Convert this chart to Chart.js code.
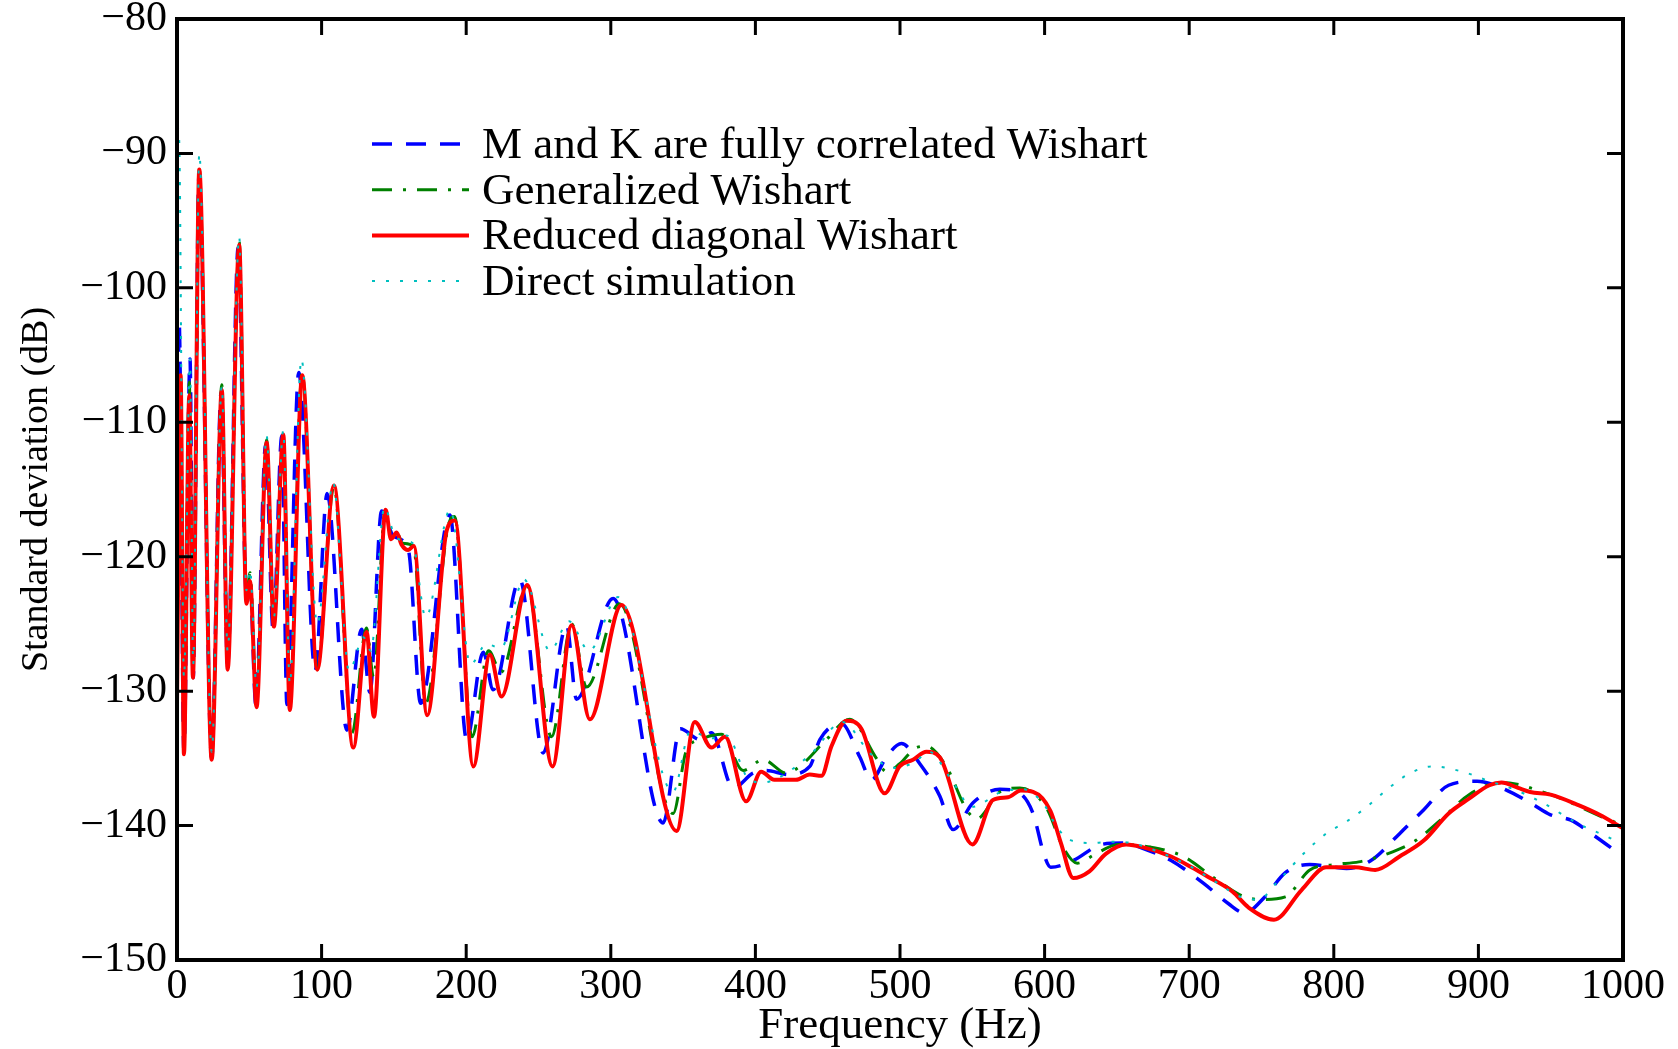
<!DOCTYPE html>
<html>
<head>
<meta charset="utf-8">
<script src="https://cdn.jsdelivr.net/npm/chart.js@4.4.0/dist/chart.umd.min.js"></script>
<style>
  html, body { margin: 0; padding: 0; background: #fff; }
  #wrap { width: 1678px; height: 1049px; }
</style>
</head>
<body>
<div id="wrap"><canvas id="c" width="1678" height="1049"></canvas></div>
<script>
// values (frequency in Hz, level in dB)
const seriesNames = [
  'M and K are fully correlated Wishart',
  'Generalized Wishart',
  'Reduced diagonal Wishart',
  'Direct simulation',
];
const xTicks = [0, 100, 200, 300, 400, 500, 600, 700, 800, 900, 1000];
const yTicks = [-150, -140, -130, -120, -110, -100, -90, -80];

const blueHz = [0, 1.5, 4.8, 9, 11.2, 15.2, 24, 30.5, 35, 42.3, 48, 50.5, 54.5, 61.3, 66.5, 72.5, 76, 84.2, 95.5, 103.8,
  117.5, 127.7, 133.4, 141.5, 150, 160, 168.5, 188.7, 200.3, 211.8, 218.7, 237.1, 253.2, 269.4, 276.3, 301.6, 336.2, 348, 361.6, 369.6,
  384.6, 398.4, 407.6, 422.6, 437.6, 444.6, 459.5, 472.2, 480.3, 490.6, 501, 513.7, 527.5, 536.7, 550.5, 569, 582.8, 592, 600, 604.2,
  619.8, 639.5, 653.6, 670.6, 687.5, 710, 727, 738.3, 752.4, 766.5, 783.4, 800.3, 808.8, 825.7, 845.5, 862.4, 879.4, 899.1, 916, 935.8,
  949.9, 964, 978.1, 1000];
const blueDb = [-125, -102.6, -134.5, -105.3, -129, -91.6, -135, -107.8, -128, -97, -123, -122, -131, -111.7, -125.5, -111, -131, -106.3, -128.5, -115.3,
  -132.9, -125.4, -130.1, -116.6, -118.5, -119.5, -130.9, -116.9, -133.6, -127.1, -129.9, -121.7, -134.6, -125.1, -130.6, -123.1, -139.8, -132.8, -133.6, -133.1,
  -137.2, -136.1, -135.9, -136.2, -135.6, -133.6, -132.4, -134.9, -136.6, -134.9, -133.9, -135.4, -137.8, -140.3, -138.3, -137.3, -137.6, -139.1, -142.3, -143.1,
  -142.6, -141.4, -141.3, -141.8, -142.6, -144.3, -145.8, -146.5, -145.3, -143.5, -142.9, -143.1, -143.2, -142.6, -140.6, -138.8, -137.0, -136.7, -137.2, -138.3,
  -139.2, -139.6, -140.6, -142.3];

const greenHz = [0, 2.5, 4.8, 8.5, 11, 15.4, 24, 31, 35, 43, 48, 50.5, 55, 62, 67, 73.5, 78, 86.5, 97, 108.5,
  121, 131, 136, 144, 148, 152, 156, 163.5, 172, 188, 192, 204, 215.5, 224, 242, 259, 273, 283.2, 306, 343.1,
  352, 362, 376.5, 391.5, 405.3, 421.4, 430.7, 449.1, 465.3, 483.7, 490.6, 499.8, 511.3, 518.3, 532, 546, 553, 569, 582.8, 601.3,
  612.7, 622.6, 633.9, 650.8, 673.3, 696, 718.5, 738.3, 749.5, 766.5, 783.4, 800.3, 817.3, 837, 856.8, 873.7, 893.5, 916, 949.9, 986.5, 1000];
const greenDb = [-128, -106.3, -134.5, -107, -129, -91.2, -135, -107.2, -128, -96.6, -123, -121.2, -130.8, -111.3, -125, -110.8, -130.8, -106.3, -128.4, -114.8,
  -133.1, -125.3, -129, -116.5, -118.3, -118.2, -119, -119.2, -130.9, -117.5, -117, -133.4, -127, -128.6, -122.2, -133.4, -125, -129.7, -123.5, -139.1,
  -134.5, -133.6, -133.2, -135.9, -135.1, -136.1, -135.6, -133.6, -132.1, -135.0, -136.0, -135.4, -134.2, -134.1, -135.6, -138.8, -139.5, -137.5, -137.2, -138.7,
  -141.6, -142.8, -142.2, -141.4, -141.6, -142.3, -144.0, -145.3, -145.5, -145.3, -143.3, -142.9, -142.7, -142.1, -141.1, -139.6, -137.7, -136.8, -137.7, -139.4, -140.0];

const redHz = [0, 2.5, 4.8, 8.5, 11, 15.4, 24, 31, 35, 43, 48, 50.5, 55, 62, 67, 73.5, 78, 86.6, 97, 108.5,
  121.9, 131.1, 136.2, 144.3, 148, 151.9, 155.3, 159.9, 163.8, 173, 186.4, 192.2, 204.9, 216.4, 224.4, 242.2, 259.7, 272.9, 285.5, 307.4,
  345.5, 358.1, 369.6, 379, 393.6, 404, 413, 428, 437.6, 445.7, 452.6, 463, 473.3, 489.4, 499.7, 509, 518.3, 527.4, 550.1, 564.3,
  574.7, 583.5, 592, 604, 611.3, 619.8, 631, 642.3, 656.4, 667.8, 687.5, 701.6, 712.9, 729.8, 741.1, 758.6, 777.7, 794.7, 814.5, 828.6,
  845.5, 862.4, 879.4, 893.5, 907.6, 916, 927.4, 935.8, 949.9, 969.6, 983.8, 1000];
const redDb = [-131, -106.5, -134.7, -108, -129, -91.2, -135.1, -107.6, -128.4, -96.8, -123.5, -121.8, -131.2, -111.5, -125.2, -110.9, -131.4, -106.5, -128.4, -114.7,
  -134.2, -125.6, -131.9, -116.5, -118.7, -118.2, -119.1, -119.5, -119.2, -131.8, -118.1, -117.3, -135.6, -127.3, -130.4, -122.1, -135.6, -125.1, -132.1, -123.6,
  -140.4, -132.3, -134.2, -133.4, -138.2, -136.0, -136.6, -136.6, -136.2, -136.3, -134.1, -132.2, -132.8, -137.6, -135.6, -135.1, -134.5, -134.9, -141.4, -138.1,
  -137.9, -137.4, -137.5, -138.9, -141.3, -143.9, -143.4, -142.1, -141.4, -141.6, -142.3, -143.1, -143.8, -144.9, -146.1, -147.0, -144.8, -143.1, -143.1, -143.3,
  -142.3, -141.1, -139.1, -138.0, -137.0, -136.8, -137.2, -137.5, -137.7, -138.5, -139.2, -140.2];

const cyanHz = [0, 1.5, 4.8, 9, 11.2, 15.4, 24, 31, 35, 43, 48, 50.5, 55, 62, 67, 73.5, 78, 86, 97, 108,
  119, 129, 134, 143.5, 150, 157, 163, 172, 189, 203, 214, 224, 240, 258, 271, 285, 305, 343, 355, 370,
  380, 395, 405, 420, 440, 460, 480, 495, 510, 520, 535, 550, 570, 585, 600, 608.4, 618.3, 633, 645, 660,
  680, 700, 720, 735.5, 748, 760.9, 779, 794.7, 808.8, 822.9, 837, 851.2, 868.1, 889.2, 907.6, 924.5, 944.3, 969.6, 986.5, 1000];
const cyanDb = [-88, -89, -129, -105.3, -128, -90, -134.5, -107.3, -127, -96.2, -122.5, -121, -129.7, -111, -124.5, -110.6, -129.5, -105.3, -125, -114.5,
  -128.5, -126, -127, -116.3, -118.3, -118.8, -119, -124.5, -116.5, -128, -126.5, -126.8, -121.7, -127, -124.8, -127, -123, -137.5, -133, -133.5,
  -133.3, -136.5, -136.8, -136.2, -134.5, -132.3, -134.7, -135.7, -135.3, -134.5, -136.5, -138.6, -137.5, -137.3, -138.5, -140.1, -141.1, -141.3, -141.2, -141.3,
  -142.0, -143.0, -144.3, -145.3, -145.5, -144.2, -142.1, -140.6, -139.7, -138.6, -137.3, -136.2, -135.6, -136.0, -136.7, -137.3, -138.3, -139.9, -140.7, -141.4];

const serif = '"Liberation Serif", "Times New Roman", serif';

function pairs(hz, db) {
  return hz.map((x, i) => ({ x, y: db[i] }));
}

function line(label, hz, db, color, width, dash, order) {
  return {
    label, data: pairs(hz, db),
    borderColor: color, borderWidth: width, borderDash: dash,
    pointRadius: 0, fill: false, cubicInterpolationMode: 'monotone', order,
  };
}

// MATLAB-style box with inward ticks on all four sides
const frame = {
  id: 'frame',
  afterDraw(chart) {
    const { ctx, chartArea: a, scales: { x, y } } = chart;
    const t = 16;
    ctx.save();
    ctx.strokeStyle = '#000';
    ctx.lineWidth = 3;
    ctx.beginPath();
    xTicks.forEach(v => {
      const px = x.getPixelForValue(v);
      ctx.moveTo(px, a.bottom); ctx.lineTo(px, a.bottom - t);
      ctx.moveTo(px, a.top); ctx.lineTo(px, a.top + t);
    });
    yTicks.forEach(v => {
      const py = y.getPixelForValue(v);
      ctx.moveTo(a.left, py); ctx.lineTo(a.left + t, py);
      ctx.moveTo(a.right, py); ctx.lineTo(a.right - t, py);
    });
    ctx.stroke();
    ctx.lineWidth = 4;
    ctx.strokeRect(a.left, a.top, a.right - a.left, a.bottom - a.top);
    ctx.restore();
  }
};

// legend inside the axes, top left
const legendBox = {
  id: 'legendBox',
  afterDraw(chart) {
    const { ctx, chartArea: a } = chart;
    chart.data.datasets.forEach((ds, i) => {
      const yy = a.top + 125 + i * 45.7;
      ctx.save();
      ctx.strokeStyle = ds.borderColor;
      ctx.lineWidth = ds.borderWidth;
      ctx.setLineDash(ds.borderDash || []);
      ctx.beginPath();
      ctx.moveTo(a.left + 195, yy);
      ctx.lineTo(a.left + 292, yy);
      ctx.stroke();
      ctx.setLineDash([]);
      ctx.fillStyle = '#000';
      ctx.font = '45px ' + serif;
      ctx.textBaseline = 'alphabetic';
      ctx.fillText(ds.label, a.left + 305, yy + 14);
      ctx.restore();
    });
  }
};

new Chart(document.getElementById('c'), {
  type: 'line',
  data: {
    datasets: [
      line(seriesNames[0], blueHz, blueDb, '#0000ff', 3.5, [20, 14], 4),
      line(seriesNames[1], greenHz, greenDb, '#008000', 3, [20, 11, 3, 11], 3),
      line(seriesNames[2], redHz, redDb, '#ff0000', 4, [], 2),
      line(seriesNames[3], cyanHz, cyanDb, '#00bfbf', 2, [3, 11], 1),
    ],
  },
  options: {
    responsive: false,
    animation: false,
    devicePixelRatio: 1,
    layout: { padding: { top: 19, right: 55, left: 0, bottom: 0 } },
    plugins: { legend: { display: false }, tooltip: { enabled: false } },
    scales: {
      x: {
        type: 'linear', min: 0, max: 1000,
        afterFit: s => { s.height = 89; s.paddingLeft = 0; s.paddingRight = 0; },
        afterBuildTicks: s => { s.ticks = xTicks.map(v => ({ value: v })); },
        grid: { display: false, drawTicks: false },
        border: { display: false },
        ticks: { autoSkip: false, maxRotation: 0, padding: 6, color: '#000', callback: v => String(v),
                 font: { family: serif, size: 42, lineHeight: 1 } },
        title: { display: true, text: 'Frequency (Hz)', color: '#000', padding: { top: 0, bottom: 0 },
                 font: { family: serif, size: 45, lineHeight: 1 } },
      },
      y: {
        min: -150, max: -80,
        afterFit: s => { s.width = 177; s.paddingTop = 0; s.paddingBottom = 0; },
        afterBuildTicks: s => { s.ticks = yTicks.map(v => ({ value: v })); },
        grid: { display: false, drawTicks: false },
        border: { display: false },
        ticks: { padding: 10, color: '#000', callback: v => String(v).replace('-', '\u2212'),
                 font: { family: serif, size: 42, lineHeight: 1 } },
        title: { display: true, text: 'Standard deviation (dB)', color: '#000', padding: { top: 18, bottom: 0 },
                 font: { family: serif, size: 38, lineHeight: 1 } },
      },
    },
  },
  plugins: [frame, legendBox],
});
</script>
</body>
</html>
